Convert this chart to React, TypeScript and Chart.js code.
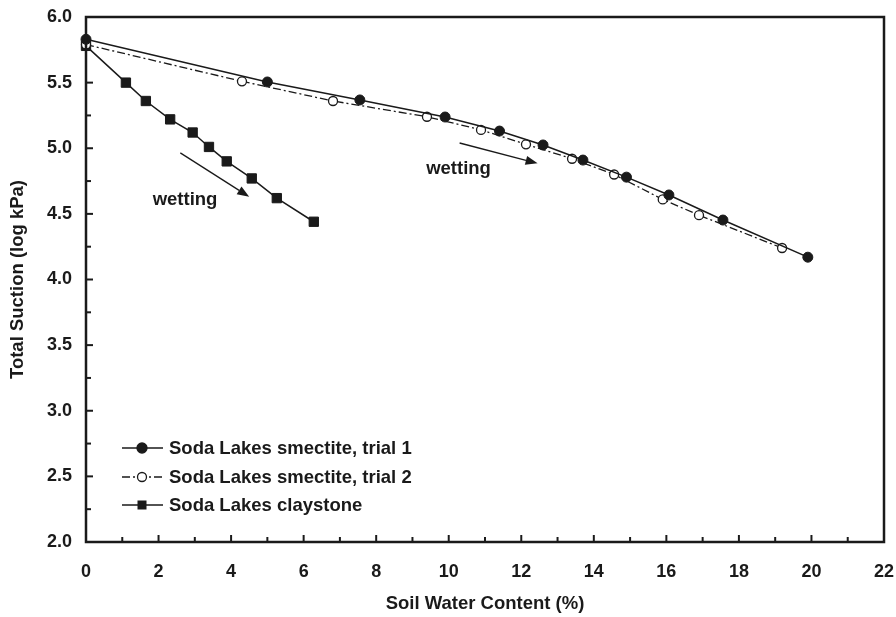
import { useEffect, useRef } from 'react';
import { Chart, registerables } from 'chart.js';

Chart.register(...registerables);

// ---- Data ----
const trial1X = [0, 5.0, 7.55, 9.9, 11.4, 12.6, 13.7, 14.9, 16.07, 17.56, 19.9];
const trial1Y = [5.83, 5.505, 5.368, 5.238, 5.131, 5.025, 4.91, 4.78, 4.644, 4.453, 4.17];
const trial2X = [0, 4.3, 6.81, 9.4, 10.89, 12.13, 13.4, 14.56, 15.9, 16.9, 19.19];
const trial2Y = [5.79, 5.51, 5.36, 5.24, 5.14, 5.03, 4.92, 4.8, 4.61, 4.49, 4.24];
const clayX = [0, 1.1, 1.65, 2.32, 2.94, 3.39, 3.88, 4.57, 5.26, 6.28];
const clayY = [5.78, 5.5, 5.36, 5.22, 5.12, 5.01, 4.9, 4.77, 4.62, 4.44];

const seriesNames = [
  'Soda Lakes smectite, trial 1',
  'Soda Lakes smectite, trial 2',
  'Soda Lakes claystone',
];

const xTickValues = [0, 1, 2, 3, 4, 5, 6, 7, 8, 9, 10, 11, 12, 13, 14, 15, 16, 17, 18, 19, 20, 21, 22];
const yTickValues = [2.0, 2.25, 2.5, 2.75, 3.0, 3.25, 3.5, 3.75, 4.0, 4.25, 4.5, 4.75, 5.0, 5.25, 5.5, 5.75, 6.0];

// arrows: start / end in data units
const arrowStarts = [[2.6, 4.965], [10.3, 5.04]];
const arrowEnds = [[4.5, 4.63], [12.45, 4.885]];
const arrowLabels = ['wetting', 'wetting'];
const arrowLabelPos = [[2.73, 4.608], [10.27, 4.842]];

const FONT = '"Liberation Sans", Arial, sans-serif';
const INK = '#1a1a1a';

const toPts = (xs: number[], ys: number[]) => xs.map((x, i) => ({ x, y: ys[i] }));

const zeroPad = (s: any) => {
  s.paddingLeft = 0;
  s.paddingRight = 0;
  s.paddingTop = 0;
  s.paddingBottom = 0;
};

const decorPlugin = {
  id: 'decor',
  afterDraw(chart: any) {
    const { ctx, chartArea } = chart;
    const xs = chart.scales.x;
    const ys = chart.scales.y;
    ctx.save();
    // frame
    ctx.strokeStyle = INK;
    ctx.lineWidth = 2.5;
    ctx.strokeRect(chartArea.left, chartArea.top, chartArea.right - chartArea.left, chartArea.bottom - chartArea.top);
    // ticks (inward)
    ctx.lineWidth = 2;
    xTickValues.forEach((v) => {
      const px = xs.getPixelForValue(v);
      const len = v % 2 === 0 ? 7 : 5;
      ctx.beginPath();
      ctx.moveTo(px, chartArea.bottom);
      ctx.lineTo(px, chartArea.bottom - len);
      ctx.stroke();
    });
    yTickValues.forEach((v) => {
      const py = ys.getPixelForValue(v);
      const len = Math.abs((v * 2) - Math.round(v * 2)) < 1e-6 ? 7 : 5;
      ctx.beginPath();
      ctx.moveTo(chartArea.left, py);
      ctx.lineTo(chartArea.left + len, py);
      ctx.stroke();
    });

    // arrows
    ctx.lineWidth = 1.3;
    ctx.fillStyle = INK;
    arrowStarts.forEach((s, i) => {
      const e = arrowEnds[i];
      const x0 = xs.getPixelForValue(s[0]);
      const y0 = ys.getPixelForValue(s[1]);
      const x1 = xs.getPixelForValue(e[0]);
      const y1 = ys.getPixelForValue(e[1]);
      const ang = Math.atan2(y1 - y0, x1 - x0);
      const hl = 12;
      const hw = 4.5;
      const bx = x1 - hl * Math.cos(ang);
      const by = y1 - hl * Math.sin(ang);
      ctx.beginPath();
      ctx.moveTo(x0, y0);
      ctx.lineTo(bx, by);
      ctx.stroke();
      ctx.beginPath();
      ctx.moveTo(x1, y1);
      ctx.lineTo(bx + hw * Math.sin(ang), by - hw * Math.cos(ang));
      ctx.lineTo(bx - hw * Math.sin(ang), by + hw * Math.cos(ang));
      ctx.closePath();
      ctx.fill();
    });
    ctx.font = `bold 18.5px ${FONT}`;
    ctx.textAlign = 'center';
    ctx.textBaseline = 'middle';
    arrowLabels.forEach((t, i) => {
      ctx.fillText(t, xs.getPixelForValue(arrowLabelPos[i][0]), ys.getPixelForValue(arrowLabelPos[i][1]));
    });

    // legend
    const rows = [chartArea.bottom - 94, chartArea.bottom - 65, chartArea.bottom - 37];
    const lx0 = chartArea.left + 36;
    const lx1 = chartArea.left + 77;
    const mx = chartArea.left + 56;
    chart.data.datasets.forEach((ds: any, i: number) => {
      const y = rows[i];
      ctx.strokeStyle = INK;
      ctx.lineWidth = 1.5;
      ctx.setLineDash(ds.borderDash || []);
      ctx.beginPath();
      ctx.moveTo(lx0, y);
      ctx.lineTo(lx1, y);
      ctx.stroke();
      ctx.setLineDash([]);
      if (ds.pointStyle === 'rect') {
        ctx.fillStyle = INK;
        ctx.fillRect(mx - 4.5, y - 4.5, 9, 9);
      } else {
        ctx.beginPath();
        ctx.arc(mx, y, ds.pointRadius, 0, Math.PI * 2);
        ctx.fillStyle = ds.pointBackgroundColor;
        ctx.fill();
        ctx.lineWidth = 1.3;
        ctx.stroke();
      }
      ctx.fillStyle = INK;
      ctx.font = `bold 18.5px ${FONT}`;
      ctx.textAlign = 'left';
      ctx.textBaseline = 'middle';
      ctx.fillText(seriesNames[i], lx1 + 6, y + 1);
    });
    ctx.restore();
  },
};

export default function App() {
  const ref = useRef<HTMLCanvasElement>(null);
  useEffect(() => {
    document.body.style.margin = '0';
    if (!ref.current) return;
    const chart = new Chart(ref.current, {
      type: 'scatter',
      data: {
        datasets: [
          {
            label: seriesNames[0],
            data: toPts(trial1X, trial1Y),
            showLine: true,
            borderColor: INK,
            borderWidth: 1.5,
            pointStyle: 'circle',
            pointRadius: 5,
            pointBackgroundColor: INK,
            pointBorderColor: INK,
            pointBorderWidth: 1,
            clip: false,
          },
          {
            label: seriesNames[1],
            data: toPts(trial2X, trial2Y),
            showLine: true,
            borderColor: INK,
            borderWidth: 1.3,
            borderDash: [8, 3, 2, 3],
            pointStyle: 'circle',
            pointRadius: 4.5,
            pointBackgroundColor: '#ffffff',
            pointBorderColor: INK,
            pointBorderWidth: 1.3,
            clip: false,
          },
          {
            label: seriesNames[2],
            data: toPts(clayX, clayY),
            showLine: true,
            borderColor: INK,
            borderWidth: 1.5,
            pointStyle: 'rect',
            pointRadius: 6.6,
            pointBackgroundColor: INK,
            pointBorderColor: INK,
            pointBorderWidth: 1,
            clip: false,
          },
        ],
      },
      options: {
        animation: false,
        responsive: false,
        layout: { padding: { left: 0, right: 12, top: 17, bottom: 0 } },
        plugins: { legend: { display: false }, tooltip: { enabled: false } },
        scales: {
          x: {
            type: 'linear',
            min: 0,
            max: 22,
            grid: { display: false, drawTicks: false },
            border: { display: false },
            ticks: {
              stepSize: 2,
              padding: 19,
              color: INK,
              font: { family: FONT, size: 18, weight: 'bold' },
              maxRotation: 0,
            },
            title: {
              display: true,
              text: 'Soil Water Content (%)',
              color: INK,
              font: { family: FONT, size: 18.5, weight: 'bold' },
              padding: { top: 0, bottom: 2 },
            },
            afterFit: (s: any) => { s.height = 75; zeroPad(s); },
          },
          y: {
            type: 'linear',
            min: 2,
            max: 6,
            grid: { display: false, drawTicks: false },
            border: { display: false },
            ticks: {
              stepSize: 0.5,
              padding: 14,
              color: INK,
              font: { family: FONT, size: 18, weight: 'bold' },
              callback: (v: any) => Number(v).toFixed(1),
            },
            title: {
              display: true,
              text: 'Total Suction (log kPa)',
              color: INK,
              font: { family: FONT, size: 18.5, weight: 'bold' },
              padding: { top: 7, bottom: 0 },
            },
            afterFit: (s: any) => { s.width = 86; zeroPad(s); },
          },
        },
      },
      plugins: [decorPlugin],
    } as any);
    return () => chart.destroy();
  }, []);
  return (
    <div style={{ width: 896, height: 617, background: '#fff' }}>
      <canvas ref={ref} width={896} height={617} style={{ display: 'block' }} />
    </div>
  );
}
